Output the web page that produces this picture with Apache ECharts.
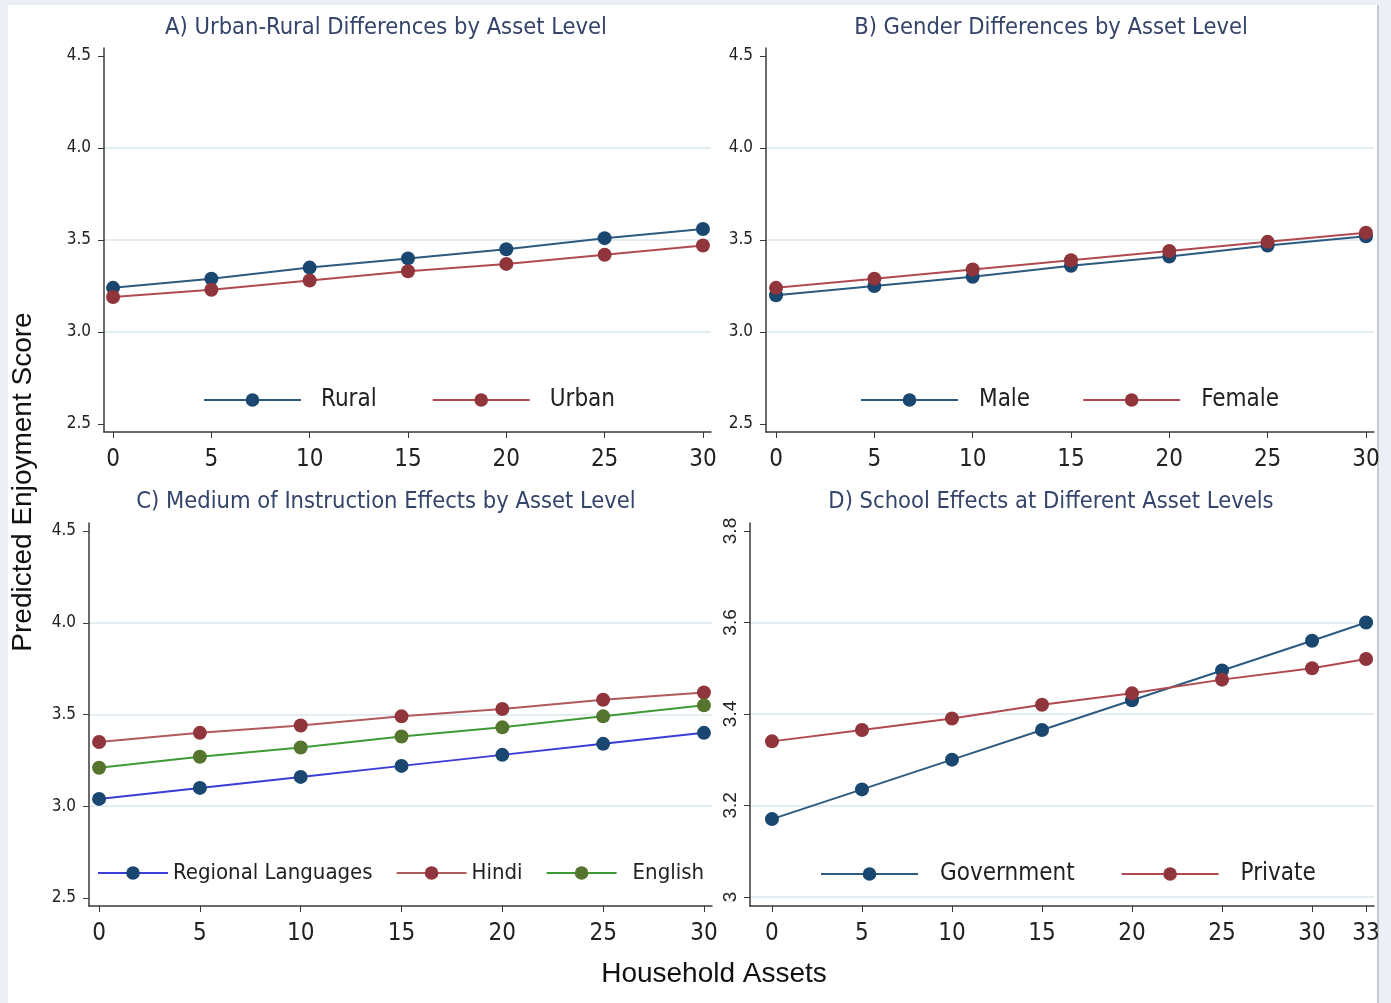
<!DOCTYPE html>
<html>
<head>
<meta charset="utf-8">
<title>Predicted Enjoyment Score by Household Assets</title>
<script src="https://cdn.jsdelivr.net/npm/echarts@6/dist/echarts.min.js"></script>
<style>
  html, body { margin: 0; padding: 0; background: #eceff5; }
  #frame { position: absolute; left: 8px; top: 5px; width: 1369px; height: 998px; background: #fff; border-right: 2px solid #c6cacf; }
  #chart { position: absolute; left: 0; top: 0; width: 1391px; height: 1003px; }
</style>
</head>
<body>
<div id="frame"></div>
<div id="chart"></div>
<script>
// x values (household assets)
const assets = [0, 5, 10, 15, 20, 25, 30]
const assetsSchool = [0, 5, 10, 15, 20, 25, 30, 33]

// tick labels
const xTicks = [0, 5, 10, 15, 20, 25, 30]
const xTicksSchool = [0, 5, 10, 15, 20, 25, 30, 33]
const yTicks = [2.5, 3.0, 3.5, 4.0, 4.5]
const yTicksSchool = [3.0, 3.2, 3.4, 3.6, 3.8]

// A) urban / rural
const rural = [3.24, 3.29, 3.35, 3.40, 3.45, 3.51, 3.56]
const urban = [3.19, 3.23, 3.28, 3.33, 3.37, 3.42, 3.47]

// B) gender
const male = [3.20, 3.25, 3.30, 3.36, 3.41, 3.47, 3.52]
const female = [3.24, 3.29, 3.34, 3.39, 3.44, 3.49, 3.54]

// C) medium of instruction
const regional = [3.04, 3.10, 3.16, 3.22, 3.28, 3.34, 3.40]
const hindi = [3.35, 3.40, 3.44, 3.49, 3.53, 3.58, 3.62]
const english = [3.21, 3.27, 3.32, 3.38, 3.43, 3.49, 3.55]

// D) school type
const government = [3.17, 3.235, 3.30, 3.365, 3.43, 3.495, 3.56, 3.60]
const privateSchool = [3.34, 3.365, 3.39, 3.42, 3.445, 3.475, 3.50, 3.52]

const titles = [
  'A) Urban-Rural Differences by Asset Level',
  'B) Gender Differences by Asset Level',
  'C) Medium of Instruction Effects by Asset Level',
  'D) School Effects at Different Asset Levels'
]

const narrow = '"Liberation Sans Narrow", "Arial Narrow", "DejaVu Sans Condensed", sans-serif'
const navy = '#1a476f'
const maroon = '#90353b'
const green = '#55752f'
const axisColor = '#3a3a3a'
const gridColor = '#e4edf1'
const none = 'rgba(0,0,0,0)'

const pairs = (xs, ys) => xs.map((x, i) => [x, ys[i]])

// plot regions; axis ranges are padded a little past the first/last tick like Stata does
const grids = [
  { left: 104, top: 48, width: 607, height: 384 },
  { left: 766, top: 48, width: 608, height: 384 },
  { left: 89, top: 523, width: 623, height: 383 },
  { left: 750, top: 523, width: 624, height: 383 }
]

function xAxisFor(i, min, max, ticks) {
  return {
    type: 'value',
    gridIndex: i,
    min: min,
    max: max,
    axisLine: { onZero: false, lineStyle: { color: axisColor, width: 1.5 } },
    axisTick: { length: 6, lineStyle: { color: axisColor }, customValues: ticks },
    axisLabel: { color: '#222', fontFamily: narrow, fontSize: 24, margin: 16, customValues: ticks },
    splitLine: { show: false }
  }
}

function yAxisFor(i, min, max, ticks, school) {
  // no grid line on the top tick (and none on the bottom one except in D)
  const lineColors = ticks.map((t, k) => (k === ticks.length - 1 || (k === 0 && !school)) ? none : gridColor)
  return {
    type: 'value',
    gridIndex: i,
    min: min,
    max: max,
    axisLine: { show: true, onZero: false, lineStyle: { color: axisColor, width: 1.5 } },
    axisTick: { show: true, length: 6, lineStyle: { color: axisColor }, customValues: ticks },
    axisLabel: school
      ? { color: '#222', fontFamily: 'Liberation Sans, sans-serif', fontSize: 19, rotate: 90, margin: 10, customValues: ticks }
      : { color: '#222', fontFamily: narrow, fontSize: 17, margin: 13, customValues: ticks, formatter: v => v.toFixed(1) },
    splitLine: { show: true, lineStyle: { color: lineColors, width: 2 } }
  }
}

function line(name, xs, ys, idx, dot, stroke) {
  return {
    type: 'line',
    name: name,
    xAxisIndex: idx,
    yAxisIndex: idx,
    data: pairs(xs, ys),
    symbol: 'circle',
    symbolSize: 14,
    lineStyle: { color: stroke, width: 2 },
    itemStyle: { color: dot },
    z: 3
  }
}

function legendFor(names, left, top, itemWidth, itemGap, pads, fontSize) {
  return {
    left: left,
    top: top,
    orient: 'horizontal',
    itemWidth: itemWidth,
    itemHeight: 17,
    itemGap: itemGap,
    textStyle: { fontFamily: narrow, fontSize: fontSize, color: '#222' },
    data: names.map((n, k) => ({ name: n, textStyle: { padding: [0, 0, 0, pads[k]] } }))
  }
}

const option = {
  animation: false,
  title: titles.map((t, i) => ({
    text: t,
    left: i % 2 === 0 ? 381 : 1046,
    top: i < 2 ? 11 : 485,
    textAlign: 'center',
    textStyle: { fontFamily: narrow, fontSize: 23.5, fontWeight: 'normal', color: '#34446a' }
  })),
  grid: grids,
  xAxis: [
    xAxisFor(0, -0.46, 30.41, xTicks),
    xAxisFor(1, -0.51, 30.41, xTicks),
    xAxisFor(2, -0.5, 30.4, xTicks),
    xAxisFor(3, -1.22, 33.44, xTicksSchool)
  ],
  yAxis: [
    yAxisFor(0, 2.4565, 4.5435, yTicks, false),
    yAxisFor(1, 2.4565, 4.5435, yTicks, false),
    yAxisFor(2, 2.4564, 4.5436, yTicks, false),
    yAxisFor(3, 2.980, 3.8175, yTicksSchool, true)
  ],
  legend: [
    legendFor(['Rural', 'Urban'], 198, 383, 97, 55, [15, 15], 24),
    legendFor(['Male', 'Female'], 855, 383, 97, 52, [16, 16], 24),
    legendFor(['Regional Languages', 'Hindi', 'English'], 92, 857, 70, 23, [0, 0, 11], 22),
    legendFor(['Government', 'Private'], 815, 857, 97, 46, [17, 17], 24)
  ],
  graphic: [
    {
      type: 'text',
      x: 23,
      y: 482,
      rotation: Math.PI / 2,
      style: { text: 'Predicted Enjoyment Score', fontFamily: 'Liberation Sans, sans-serif', fontSize: 28, fill: '#111', textAlign: 'center', textVerticalAlign: 'middle' }
    },
    {
      type: 'text',
      x: 714,
      y: 974,
      style: { text: 'Household Assets', fontFamily: 'Liberation Sans, sans-serif', fontSize: 28, fill: '#111', textAlign: 'center', textVerticalAlign: 'middle' }
    }
  ],
  series: [
    line('Rural', assets, rural, 0, navy, '#2d5b80'),
    line('Urban', assets, urban, 0, maroon, '#b04a50'),
    line('Male', assets, male, 1, navy, '#2d5b80'),
    line('Female', assets, female, 1, maroon, '#b04a50'),
    line('Regional Languages', assets, regional, 2, navy, '#3b3bd6'),
    line('Hindi', assets, hindi, 2, maroon, '#b05a5e'),
    line('English', assets, english, 2, green, '#3f9a35'),
    line('Government', assetsSchool, government, 3, navy, '#2d5b80'),
    line('Private', assetsSchool, privateSchool, 3, maroon, '#b04a50')
  ]
}

const chart = echarts.init(document.getElementById('chart'))
chart.setOption(option)
</script>
</body>
</html>
